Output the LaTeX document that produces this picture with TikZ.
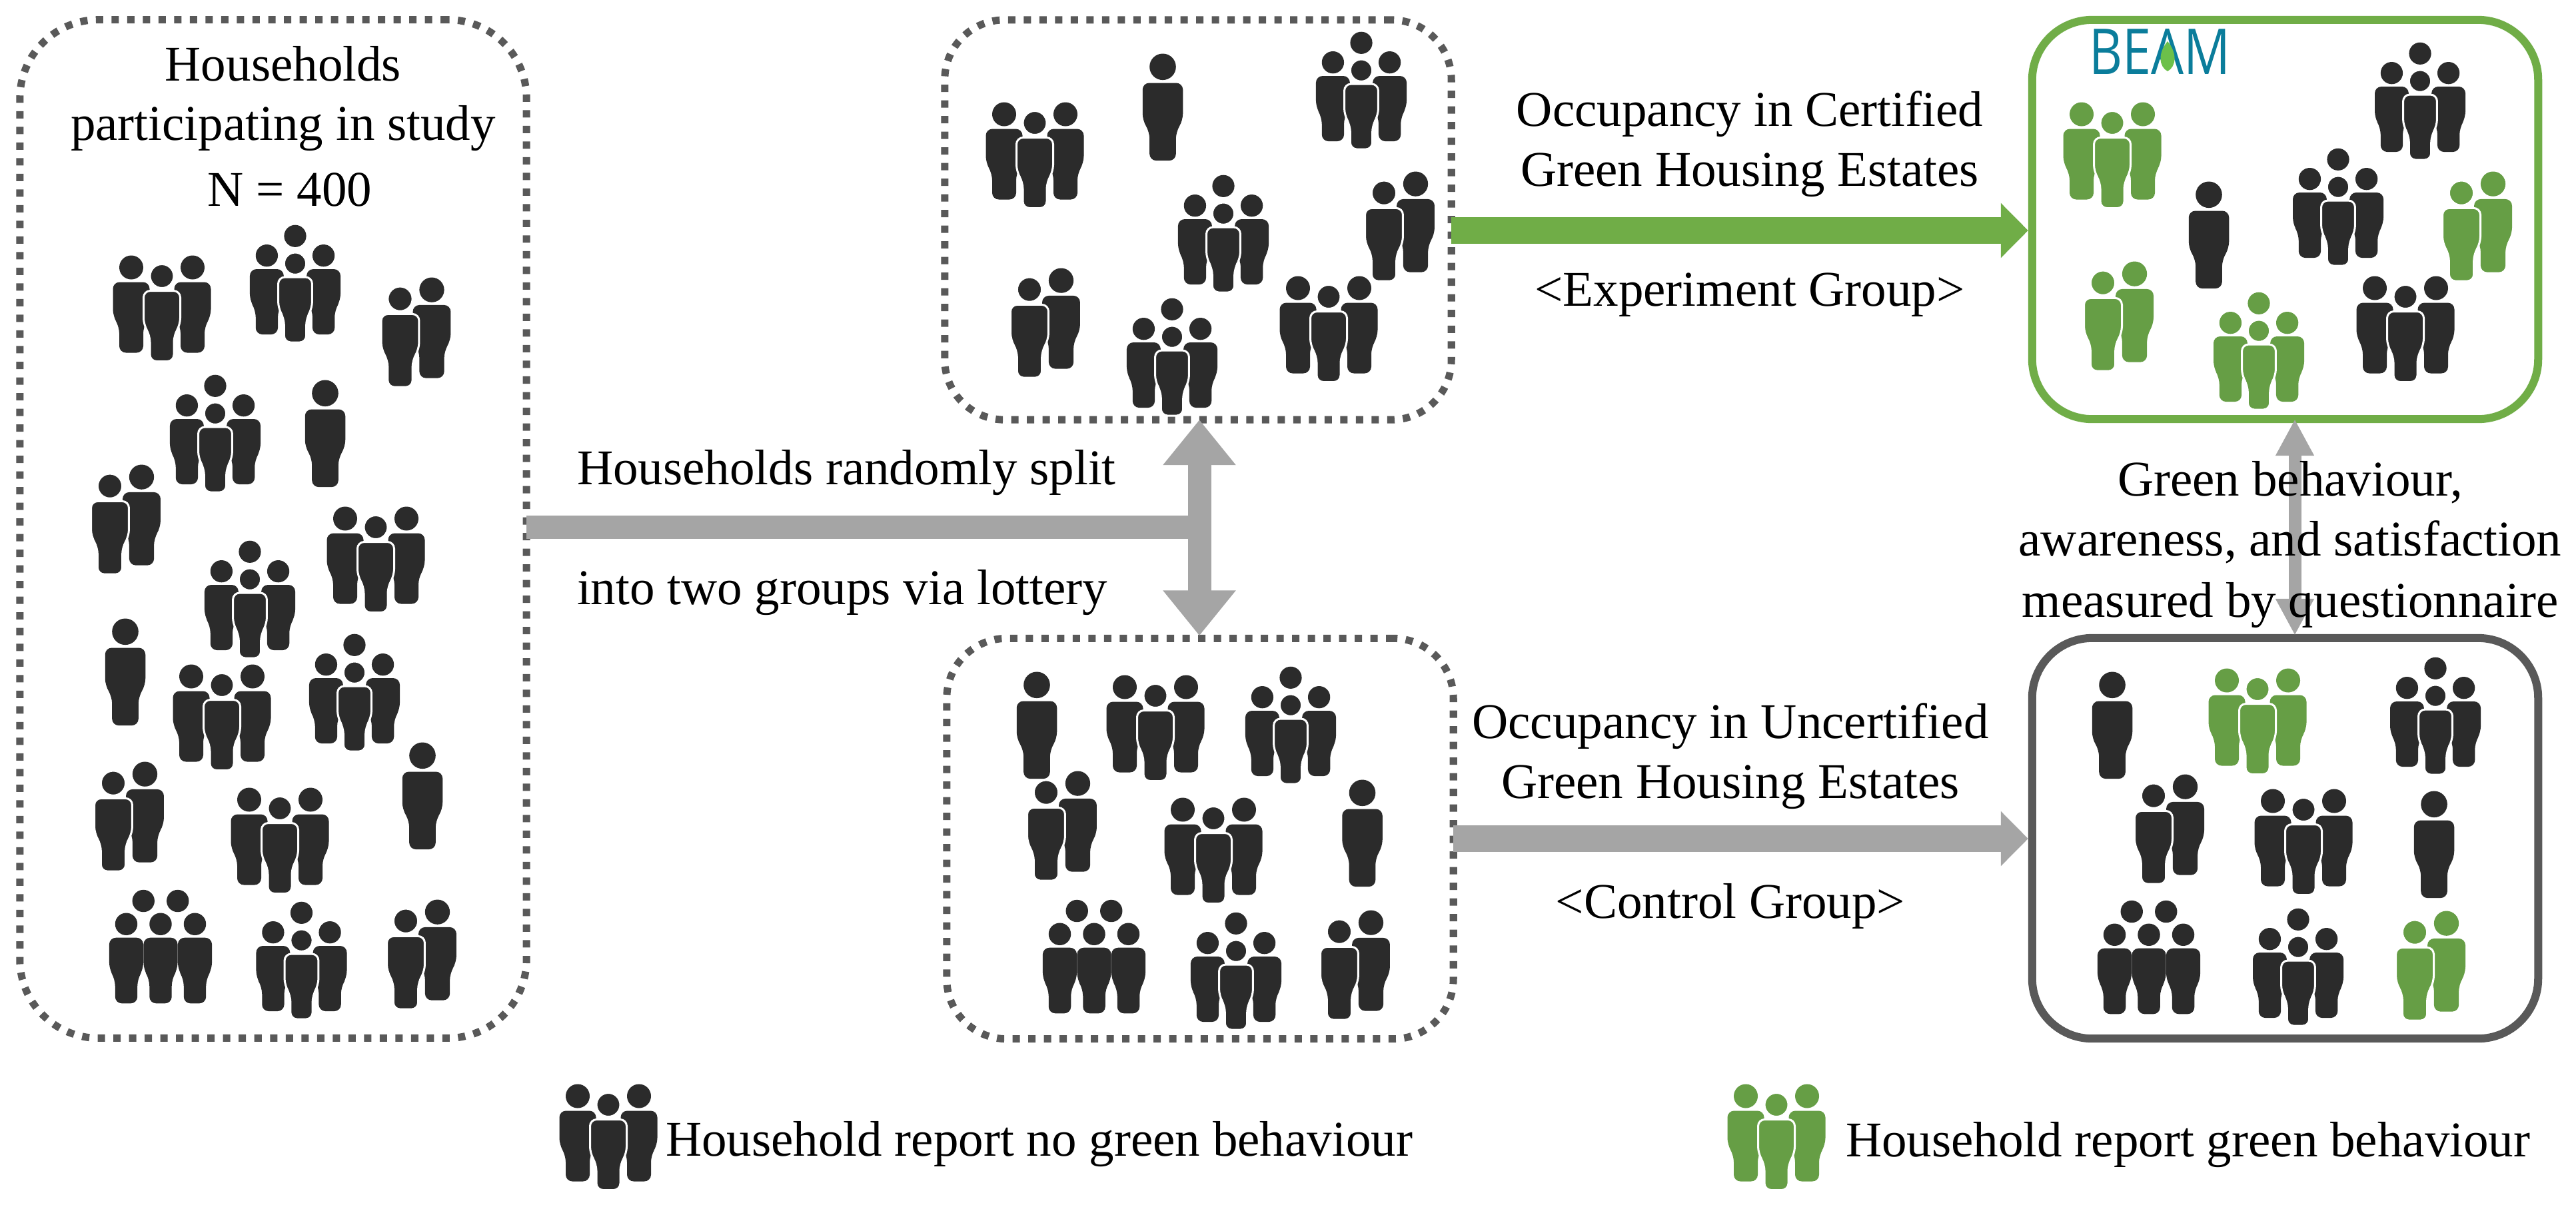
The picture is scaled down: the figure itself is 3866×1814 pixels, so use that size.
\documentclass[tikz,border=0pt]{standalone}
\usepackage{fontspec}
\setmainfont{Liberation Serif}
\newfontfamily\logofont{Open Sans}
\usetikzlibrary{arrows.meta}
\definecolor{icondark}{HTML}{2B2B2B}
\definecolor{icongreen}{HTML}{669E45}
\definecolor{boxgrey}{HTML}{595959}
\definecolor{boxgreen}{HTML}{70AD47}
\definecolor{arrowgrey}{HTML}{A5A5A5}
\definecolor{beamteal}{HTML}{0B7D9B}
\definecolor{beamleaf}{HTML}{6CC04A}
\tikzset{
  dotbox/.style={draw=boxgrey,line width=0.11cm,dash pattern=on 0.11cm off 0.125cm,rectangle,rounded corners=#1,inner sep=0pt,outer sep=0pt},
  solidbox/.style={draw=#1,line width=0.12cm,rectangle,rounded corners=0.9cm,inner sep=0pt,outer sep=0pt},
  label/.style={anchor=base,inner sep=0pt,outer sep=0pt,font=\fontsize{21.34}{25}\selectfont,text=black},
  labelw/.style={label,anchor=base west},
  fatgrey/.style={draw=arrowgrey,line width=0.35cm},
  fatarrow/.style={line width=0.40cm,-{Triangle[length=0.41cm,width=0.80cm,fill=#1]},draw=#1,shorten >=0.06cm},
  backfig/.style={fill=ic,draw=none},
  frontfig/.style={fill=ic,draw=white,line width=0.03cm},
}
% one figure: dx, top, scale, style
\newcommand{\figshape}[4]{%
  \path[#4,shift={(#1,#2)},scale=#3,rounded corners=0.1cm]
    (0,18) circle (18)
    (-27.5,40) -- (27.5,40) -- (27.5,91) -- (18,107) -- (18,146) -- (-18,146) -- (-18,107) -- (-27.5,91) -- cycle;}
\newcommand{\iconsolo}[3]{\begin{scope}[shift={(#1,#2)}]\colorlet{ic}{#3}%
  \figshape{0}{-80.5}{1.1}{backfig}\end{scope}}
\newcommand{\iconduo}[3]{\begin{scope}[shift={(#1,#2)}]\colorlet{ic}{#3}%
  \figshape{23.5}{-82.5}{1.035}{backfig}\figshape{-24}{-69}{1.035}{frontfig}\end{scope}}
\newcommand{\icontrio}[3]{\begin{scope}[shift={(#1,#2)}]\colorlet{ic}{#3}%
  \figshape{-46}{-79.5}{1}{backfig}\figshape{46}{-79.5}{1}{backfig}\figshape{0}{-66.5}{1}{frontfig}\end{scope}}
\newcommand{\iconfour}[3]{\begin{scope}[shift={(#1,#2)}]\colorlet{ic}{#3}%
  \fill[ic] (0,-71.7) circle (16.6);
  \figshape{-42.6}{-59}{0.925}{backfig}\figshape{42.6}{-59}{0.925}{backfig}\figshape{0}{-47}{0.925}{frontfig}\end{scope}}
\newcommand{\iconfive}[3]{\begin{scope}[shift={(#1,#2)}]\colorlet{ic}{#3}%
  \fill[ic] (-25.75,-68.5) circle (16.7) (25.75,-68.5) circle (16.7);
  \figshape{-51.5}{-50.5}{0.93}{backfig}\figshape{0}{-50.5}{0.93}{backfig}\figshape{51.5}{-50.5}{0.93}{backfig}\end{scope}}
\begin{document}
\begin{tikzpicture}[x=0.01cm,y=-0.01cm]
\useasboundingbox (0,0) rectangle (3866,1814);
\fill[white] (0,0) rectangle (3866,1814);
% boxes
\node[dotbox=1.18cm,minimum width=7.6cm,minimum height=15.28cm] (left) at (410,794) {};
\node[dotbox=0.9cm,minimum width=7.6cm,minimum height=6.0cm] (top) at (1798,330) {};
\node[dotbox=0.9cm,minimum width=7.6cm,minimum height=6.01cm] (bot) at (1801,1259) {};
\node[solidbox=boxgreen,minimum width=7.59cm,minimum height=5.99cm] (green) at (3429.5,329.5) {};
\node[solidbox=boxgrey,minimum width=7.59cm,minimum height=6.01cm] (grey) at (3429.5,1258.5) {};
% connectors
\coordinate (split) at (1800,791.5);
\coordinate (q) at (3444,800);
\coordinate (ga) at (2600,346);
\coordinate (ca) at (2600,1259);
\draw[fatgrey] (left.east |- split) -- (split);
\draw[fatgrey,-{Triangle[length=0.68cm,width=1.05cm]}] (split) -- (split |- top.south);
\draw[fatgrey,-{Triangle[length=0.68cm,width=1.05cm]},shorten >=0.04cm] (split) -- (split |- bot.north);
\draw[fatarrow=boxgreen] (top.east |- ga) -- (green.west |- ga);
\draw[fatarrow=arrowgrey] (bot.east |- ca) -- (grey.west |- ca);
\draw[draw=arrowgrey,line width=0.19cm,{Triangle[length=0.55cm,width=0.54cm]}-{Triangle[length=0.55cm,width=0.54cm]},shorten >=0.04cm] (q |- green.south) -- (q |- grey.north);
% left box
\icontrio{243}{463}{icondark}
\iconfour{443}{426}{icondark}
\iconduo{624.5}{499}{icondark}
\iconfour{323}{651}{icondark}
\iconsolo{488}{651}{icondark}
\iconduo{189}{780}{icondark}
\icontrio{564}{840}{icondark}
\iconfour{375}{900}{icondark}
\iconsolo{188}{1009}{icondark}
\icontrio{333}{1077}{icondark}
\iconfour{532}{1040}{icondark}
\iconduo{194}{1226}{icondark}
\iconsolo{634}{1195}{icondark}
\icontrio{420}{1262}{icondark}
\iconfive{241}{1421}{icondark}
\iconfour{452.5}{1442}{icondark}
\iconduo{633}{1433}{icondark}
% top box
\icontrio{1553}{233}{icondark}
\iconsolo{1745}{161}{icondark}
\iconfour{2043}{136}{icondark}
\iconfour{1836}{351}{icondark}
\iconduo{2101}{340}{icondark}
\iconduo{1569}{485}{icondark}
\iconfour{1759}{536}{icondark}
\icontrio{1994}{494}{icondark}
% bottom box
\iconsolo{1556}{1089}{icondark}
\icontrio{1734}{1093}{icondark}
\iconfour{1937}{1089}{icondark}
\iconduo{1594}{1240}{icondark}
\icontrio{1821}{1277}{icondark}
\iconsolo{2044.5}{1251}{icondark}
\iconfive{1642}{1436}{icondark}
\iconfour{1855}{1458}{icondark}
\iconduo{2034}{1449}{icondark}
% green box
\icontrio{3170}{233}{icongreen}
\iconfour{3632}{152}{icondark}
\iconsolo{3315}{353}{icondark}
\iconfour{3509}{311}{icondark}
\iconduo{3718}{340}{icongreen}
\iconduo{3180}{475}{icongreen}
\iconfour{3390}{527}{icongreen}
\icontrio{3610}{494}{icondark}
% grey box
\iconsolo{3170}{1089}{icondark}
\icontrio{3388}{1083}{icongreen}
\iconfour{3655}{1075}{icondark}
\iconduo{3256}{1245}{icondark}
\icontrio{3457}{1264}{icondark}
\iconsolo{3653}{1268}{icondark}
\iconfive{3225}{1437}{icondark}
\iconfour{3449}{1452}{icondark}
\iconduo{3648}{1450}{icongreen}
% legend icons
\icontrio{913}{1707}{icondark}
\icontrio{2666}{1707}{icongreen}
% BEAM logo
\node[anchor=base west,inner sep=0pt,outer sep=0pt,text=beamteal] (beam) at (3135,111) {\resizebox{2.12cm}{0.68cm}{\logofont BEAM}};
\fill[beamleaf] (3253,62) .. controls (3268,80) and (3266,100) .. (3253,107) .. controls (3240,100) and (3238,80) .. (3253,62);
% labels
\node[label] (l1) at (425,121) {Households};
\node[label] (l2) at (425,210) {participating in study};
\node[label] (l3) at (435,309) {N = 400};
\node[labelw] (s1) at (866,727) {Households randomly split};
\node[labelw] (s2) at (866,907) {into two groups via lottery};
\node[label] (e1) at (2626,189) {Occupancy in Certified};
\node[label] (e2) at (2626,279) {Green Housing Estates};
\node[label] (e3) at (2626,459) {<Experiment Group>};
\node[label] (c1) at (2597,1108) {Occupancy in Uncertified};
\node[label] (c2) at (2597,1198) {Green Housing Estates};
\node[label] (c3) at (2597,1378) {<Control Group>};
\node[label] (m1) at (3437,744) {Green behaviour,};
\node[label] (m2) at (3437,834) {awareness, and satisfaction};
\node[label] (m3) at (3437,926) {measured by questionnaire};
\node[labelw] (k1) at (999,1735) {Household report no green behaviour};
\node[labelw] (k2) at (2770,1736) {Household report green behaviour};
\end{tikzpicture}
\end{document}
